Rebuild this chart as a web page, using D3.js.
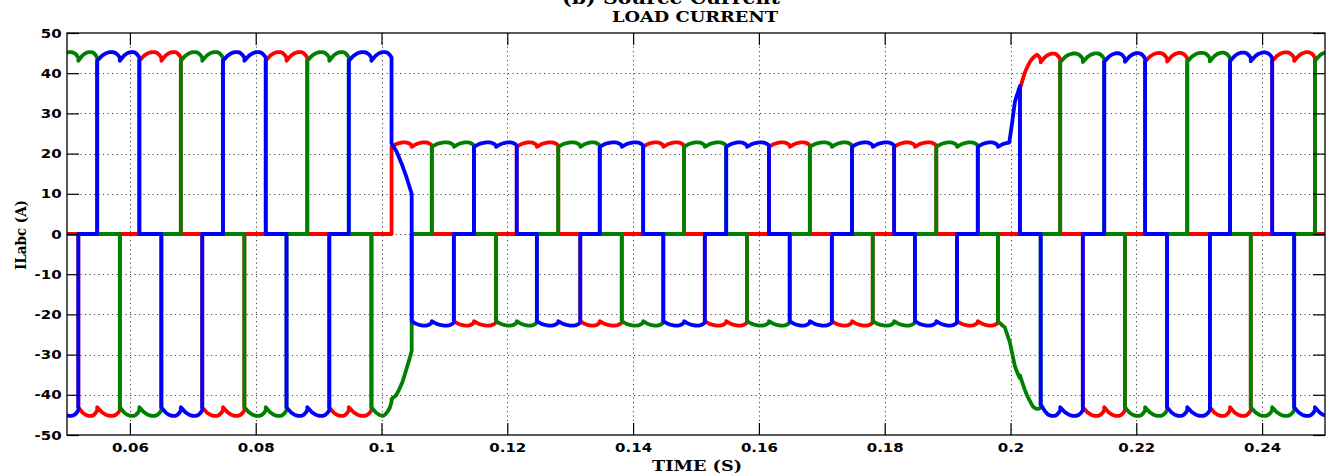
<!DOCTYPE html>
<html>
<head>
<meta charset="utf-8">
<script src="https://cdn.jsdelivr.net/npm/d3@7/dist/d3.min.js"></script>
<style>
  html, body { margin: 0; padding: 0; background: #fff; }
  svg { display: block; }
</style>
</head>
<body>
<svg id="chart" width="1329" height="476"></svg>
<script>
// ---- Axis ranges and ticks ----
const xDomain = [0.05, 0.25];
const yDomain = [-50, 50];
const xTickValues = [0.06, 0.08, 0.10, 0.12, 0.14, 0.16, 0.18, 0.20, 0.22, 0.24];
const xTickLabels = ["0.06", "0.08", "0.1", "0.12", "0.14", "0.16", "0.18", "0.2", "0.22", "0.24"];
const yTickValues = [-50, -40, -30, -20, -10, 0, 10, 20, 30, 40, 50];
const yTickLabels = ["-50", "-40", "-30", "-20", "-10", "0", "10", "20", "30", "40", "50"];

// ---- Three-phase load currents (A) ----
// Phase keys in drawing order
const phases = ["R", "G", "B"];

// Instants (s) where the positive-side conducting phase changes
const topTimes = [0.0548, 0.0615, 0.0681, 0.0748, 0.0816, 0.0882, 0.0948, 0.1016, 0.1080, 0.1147,
                  0.1215, 0.1281, 0.1347, 0.1416, 0.1481, 0.1548, 0.1616, 0.1681, 0.1748, 0.1815,
                  0.1882, 0.1948, 0.2015, 0.2079, 0.2149, 0.2214, 0.2281, 0.2349, 0.2416, 0.2484];
// Positive-side conducting phase before the first instant and after each one
const topSeq = ["G", "B", "R", "G", "B", "R", "G", "B", "R", "G", "B", "R", "G", "B", "R", "G",
                "B", "R", "G", "B", "R", "G", "B", "R", "G", "B", "R", "G", "B", "R", "G"];

// Instants (s) where the negative-side conducting phase changes
const botTimes = [0.0518, 0.0584, 0.0650, 0.0715, 0.0782, 0.0849, 0.0917, 0.0984, 0.1048, 0.1115,
                  0.1182, 0.1247, 0.1316, 0.1382, 0.1448, 0.1514, 0.1581, 0.1649, 0.1716, 0.1781,
                  0.1848, 0.1915, 0.1980, 0.2048, 0.2115, 0.2182, 0.2249, 0.2317, 0.2382, 0.2451];
const botSeq = ["B", "R", "G", "B", "R", "G", "B", "R", "G", "B", "R", "G", "B", "R", "G", "B",
                "R", "G", "B", "R", "G", "B", "R", "G", "B", "R", "G", "B", "R", "G", "B"];

// Current magnitude carried on the positive side (time s, amps)
const envTop = [[0.05, 45.3], [0.1016, 45.3], [0.1016, 22.8], [0.1998, 22.8], [0.2002, 27],
                [0.2007, 33], [0.2012, 36], [0.2015, 38], [0.2023, 41], [0.2031, 43],
                [0.2042, 44.9], [0.25, 45.3]];
// Current magnitude carried on the negative side (time s, amps)
const envBot = [[0.05, 45.3], [0.1003, 45.3], [0.1013, 44], [0.1023, 41], [0.1033, 37],
                [0.1041, 33], [0.1048, 30], [0.1048, 22.8], [0.1980, 22.8], [0.1991, 23.5],
                [0.1999, 27], [0.2007, 33], [0.2015, 37], [0.2026, 40.5], [0.2036, 43],
                [0.2048, 44.6], [0.2060, 45.3], [0.25, 45.3]];

// Phase B while it hands over during the load step (time s, amps)
const bluePatch = [[0.1016, 22.5], [0.1024, 20.5], [0.1032, 17.5], [0.1040, 14], [0.1046, 11], [0.1048, 10]];
const patches = { B: bluePatch };

// Commutation ripple over one 60-degree interval (fraction, amps below peak at 45 A)
const rippleShape = [[0, 2.2], [0.1, 1.6], [0.22, 0.9], [0.38, 0.35], [0.55, 0.05],
                     [0.7, 0.05], [0.82, 0.3], [0.92, 0.8], [1, 1.4]];
const rippleInterval = 0.00333;

const phaseColor = { R: "#ff0000", G: "#008000", B: "#0000ff" };

// ---- Layout ----
const plot = { left: 67, right: 1325, top: 33, bottom: 435 };
const svg = d3.select("#chart");
svg.append("rect").attr("width", 1329).attr("height", 476).attr("fill", "#fff");

const x = d3.scaleLinear().domain(xDomain).range([plot.left, plot.right]);
const y = d3.scaleLinear().domain(yDomain).range([plot.bottom, plot.top]);

// ---- Waveform construction ----
function lookup(tab, t) {
  if (t <= tab[0][0]) return tab[0][1];
  for (let i = 0; i < tab.length - 1; i++) {
    const t0 = tab[i][0], v0 = tab[i][1], t1 = tab[i + 1][0], v1 = tab[i + 1][1];
    if (t1 > t0 && t >= t0 && t <= t1) return v0 + (v1 - v0) * (t - t0) / (t1 - t0);
  }
  return tab[tab.length - 1][1];
}
function conductor(times, seq, t) {
  let k = 0;
  while (k < times.length && times[k] <= t) k++;
  return seq[k];
}
const events = Array.from(new Set(topTimes.concat(botTimes))).sort((a, b) => a - b);
const bounds = [xDomain[0]].concat(events, [xDomain[1]]);

function dip(t) {
  let i = 0;
  while (i < bounds.length - 2 && bounds[i + 1] <= t) i++;
  const a = bounds[i], b = bounds[i + 1];
  let u;
  if (i === 0) u = 1 - (b - t) / rippleInterval;
  else if (i === bounds.length - 2) u = (t - a) / rippleInterval;
  else u = (t - a) / (b - a);
  u = Math.max(0, Math.min(1, u));
  return lookup(rippleShape, u);
}

function current(ph, t) {
  const p = patches[ph];
  if (p && t > p[0][0] && t < p[p.length - 1][0]) return lookup(p, t);
  const d = dip(t);
  if (conductor(topTimes, topSeq, t) === ph) {
    const L = lookup(envTop, t);
    return L - d * L / 45;
  }
  if (conductor(botTimes, botSeq, t) === ph) {
    const L = lookup(envBot, t);
    return -(L - d * L / 45);
  }
  return 0;
}

// Sample nodes: ripple nodes inside each interval plus all table breakpoints
const nodeTimes = [];
for (let i = 0; i < bounds.length - 1; i++) {
  const a = bounds[i], b = bounds[i + 1];
  rippleShape.forEach(r => {
    if (r[0] > 0 && r[0] < 1) nodeTimes.push(a + r[0] * (b - a));
  });
}
envTop.concat(envBot, bluePatch).forEach(p => nodeTimes.push(p[0]));
const isEvent = t => events.some(e => Math.abs(e - t) < 1e-9);
const items = nodeTimes
  .filter(t => t > xDomain[0] && t < xDomain[1] && !isEvent(t))
  .map(t => ({ t, edge: false }))
  .concat(events.map(t => ({ t, edge: true })))
  .sort((a, b) => a.t - b.t);

function buildSeries(ph) {
  const pts = [[xDomain[0], current(ph, xDomain[0])]];
  items.forEach(it => {
    if (it.edge) {
      pts.push([it.t, current(ph, it.t - 1e-7)]);
      pts.push([it.t, current(ph, it.t + 1e-7)]);
    } else {
      pts.push([it.t, current(ph, it.t)]);
    }
  });
  pts.push([xDomain[1], current(ph, xDomain[1])]);
  return pts;
}

// ---- Grid ----
const grid = svg.append("g").attr("stroke", "#444").attr("stroke-width", 1)
  .attr("stroke-dasharray", "1.2,3.3");
grid.selectAll(".gx").data(xTickValues).join("line")
  .attr("x1", d => Math.round(x(d)) + 0.5).attr("x2", d => Math.round(x(d)) + 0.5)
  .attr("y1", plot.top).attr("y2", plot.bottom);
grid.selectAll(".gy").data(yTickValues.filter(v => v > yDomain[0] && v < yDomain[1])).join("line")
  .attr("y1", d => Math.round(y(d)) + 0.5).attr("y2", d => Math.round(y(d)) + 0.5)
  .attr("x1", plot.left).attr("x2", plot.right);

// ---- Traces ----
svg.append("defs").append("clipPath").attr("id", "plotClip")
  .append("rect").attr("x", plot.left).attr("y", plot.top)
  .attr("width", plot.right - plot.left).attr("height", plot.bottom - plot.top);

const line = d3.line().x(d => x(d[0])).y(d => y(d[1]));
svg.append("g").attr("clip-path", "url(#plotClip)")
  .selectAll("path").data(phases).join("path")
  .attr("d", ph => line(buildSeries(ph)))
  .attr("fill", "none")
  .attr("stroke", ph => phaseColor[ph])
  .attr("stroke-width", 3.8)
  .attr("stroke-linejoin", "round");

// ---- Axes (ticks point inward on all four sides) ----
const tickFont = "'DejaVu Sans', sans-serif";
function styleAxis(g) {
  g.select(".domain").remove();
  g.selectAll(".tick line").attr("stroke", "#000").attr("stroke-width", 1.2);
  g.selectAll(".tick text").attr("font-family", tickFont).attr("font-weight", "bold")
    .attr("font-size", 12.5).attr("fill", "#000");
}
const xFmt = (d, i) => xTickLabels[i];
const yFmt = (d, i) => yTickLabels[i];

svg.append("g").attr("transform", `translate(0,${plot.bottom})`)
  .call(d3.axisBottom(x).tickValues(xTickValues).tickFormat(xFmt).tickSizeInner(-12).tickSizeOuter(0).tickPadding(8))
  .call(styleAxis)
  .call(g => g.selectAll(".tick text").attr("transform", "scale(1.2,1)"));

svg.append("g").attr("transform", `translate(0,${plot.top})`)
  .call(d3.axisTop(x).tickValues(xTickValues).tickFormat("").tickSizeInner(-12).tickSizeOuter(0))
  .call(styleAxis);

svg.append("g").attr("transform", `translate(${plot.left},0)`)
  .call(d3.axisLeft(y).tickValues(yTickValues).tickFormat(yFmt).tickSizeInner(-12).tickSizeOuter(0).tickPadding(4.5))
  .call(styleAxis)
  .call(g => g.selectAll(".tick text").attr("transform", "scale(1.2,1)"));

svg.append("g").attr("transform", `translate(${plot.right},0)`)
  .call(d3.axisRight(y).tickValues(yTickValues).tickFormat("").tickSizeInner(-12).tickSizeOuter(0))
  .call(styleAxis);

// Frame
svg.append("rect")
  .attr("x", plot.left).attr("y", plot.top)
  .attr("width", plot.right - plot.left).attr("height", plot.bottom - plot.top)
  .attr("fill", "none").attr("stroke", "#000").attr("stroke-width", 1.3);

// ---- Titles ----
const serif = "'DejaVu Serif', 'Liberation Serif', serif";
svg.append("text").attr("x", 671).attr("y", 4).attr("text-anchor", "middle")
  .attr("font-family", serif).attr("font-weight", "bold").attr("font-size", 18)
  .attr("textLength", 218).attr("lengthAdjust", "spacingAndGlyphs")
  .text("(b) Source Current");

svg.append("text").attr("x", 695).attr("y", 22).attr("text-anchor", "middle")
  .attr("font-family", serif).attr("font-weight", "bold").attr("font-size", 14)
  .attr("textLength", 166).attr("lengthAdjust", "spacingAndGlyphs")
  .text("LOAD CURRENT");

svg.append("text").attr("x", 697).attr("y", 471).attr("text-anchor", "middle")
  .attr("font-family", serif).attr("font-weight", "bold").attr("font-size", 14)
  .attr("textLength", 90).attr("lengthAdjust", "spacingAndGlyphs")
  .text("TIME (S)");

svg.append("text").attr("transform", "translate(26,235) rotate(-90)").attr("text-anchor", "middle")
  .attr("font-family", serif).attr("font-weight", "bold").attr("font-size", 15)
  .attr("textLength", 70).attr("lengthAdjust", "spacingAndGlyphs")
  .text("ILabc (A)");
</script>
</body>
</html>
